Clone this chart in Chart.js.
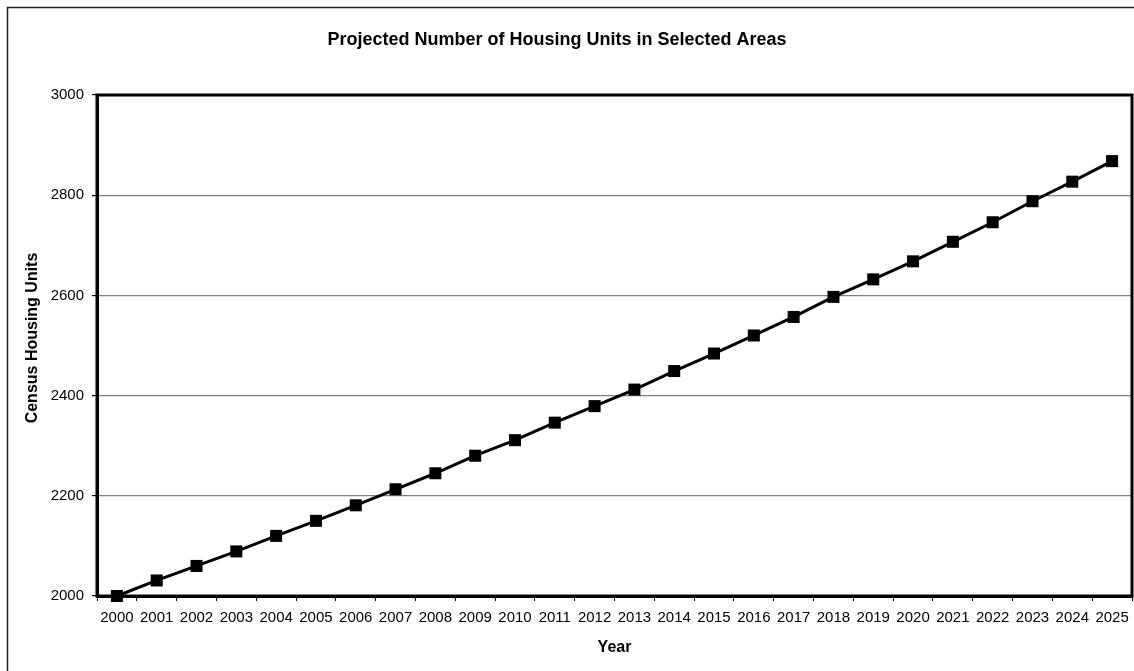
<!DOCTYPE html>
<html>
<head>
<meta charset="utf-8">
<title>Projected Number of Housing Units</title>
<script src="https://cdn.jsdelivr.net/npm/chart.js@4/dist/chart.umd.min.js"></script>
<style>
	html, body { margin: 0; padding: 0; background: #fff; overflow: hidden; }
	canvas { display: block; }
</style>
</head>
<body>
<canvas id="myChart" width="1134" height="671"></canvas>
<script>
// DATA
const years = ["2000", "2001", "2002", "2003", "2004", "2005", "2006", "2007", "2008", "2009",
	"2010", "2011", "2012", "2013", "2014", "2015", "2016", "2017", "2018", "2019",
	"2020", "2021", "2022", "2023", "2024", "2025"];
const housingUnits = [2000, 2031, 2060, 2089, 2120, 2150, 2181, 2213, 2245, 2280,
	2311, 2346, 2379, 2412, 2449, 2484, 2520, 2557, 2597, 2632,
	2668, 2707, 2746, 2788, 2827, 2868];
const yTicks = [2000, 2200, 2400, 2600, 2800, 3000];
const chartTitle = "Projected Number of Housing Units in Selected Areas";
const yTitle = "Census Housing Units";

const FONT = "'Liberation Sans', Arial, sans-serif";

// outer frame, titles and plot box
const frame = {
	id: "frame",
	beforeDraw(chart) {
		const ctx = chart.ctx;
		ctx.save();
		ctx.fillStyle = "#fff";
		ctx.fillRect(0, 0, chart.width, chart.height);
		ctx.strokeStyle = "#222";
		ctx.lineWidth = 1.5;
		ctx.strokeRect(7.5, 7.5, 1300, 800);
		// main title, centred on the original sheet chart (wider than the crop)
		ctx.fillStyle = "#000";
		ctx.font = "bold 18px " + FONT;
		ctx.textAlign = "center";
		ctx.textBaseline = "alphabetic";
		ctx.fillText(chartTitle, 557, 44.5);
		// y axis title
		ctx.font = "bold 16px " + FONT;
		ctx.textBaseline = "middle";
		ctx.translate(33, 338);
		ctx.rotate(-Math.PI / 2);
		ctx.fillText(yTitle, 0, 0);
		ctx.restore();
	},
	beforeDatasetsDraw(chart) {
		const a = chart.chartArea;
		const ctx = chart.ctx;
		ctx.save();
		ctx.strokeStyle = "#000";
		ctx.lineWidth = 3;
		ctx.strokeRect(a.left, a.top, a.right - a.left, a.bottom - a.top);
		ctx.restore();
	}
};

// CONFIG
const config = {
	type: "line",
	data: {
		labels: years,
		datasets: [{
			label: yTitle,
			data: housingUnits,
			borderColor: "#000",
			backgroundColor: "#000",
			borderWidth: 3,
			pointStyle: "rect",
			pointRadius: 8.5,
			pointBorderWidth: 0,
			pointBackgroundColor: "#000",
			tension: 0,
			clip: false
		}]
	},
	options: {
		responsive: false,
		animation: false,
		layout: { autoPadding: false, padding: { left: 8, right: 2, top: 95, bottom: 0 } },
		plugins: {
			legend: { display: false },
			tooltip: { enabled: false },
			title: { display: false }
		},
		scales: {
			x: {
				type: "category",
				offset: true,
				afterFit(scale) {
					scale.height = 75;
					scale.paddingLeft = 0;
					scale.paddingRight = 0;
				},
				grid: {
					offset: true,
					drawOnChartArea: false,
					drawTicks: true,
					tickLength: 5,
					tickColor: "#000",
					tickWidth: 1
				},
				border: { display: true, color: "#000", width: 3 },
				ticks: {
					color: "#000",
					font: { family: FONT, size: 15 },
					padding: 8,
					maxRotation: 0,
					autoSkip: false
				},
				title: {
					display: true,
					text: "Year",
					color: "#000",
					font: { family: FONT, size: 16, weight: "bold" },
					padding: { top: 4, bottom: 14 }
				}
			},
			y: {
				min: 2000,
				max: 3000,
				afterFit(scale) { scale.width = 89; },
				afterBuildTicks(scale) { scale.ticks = yTicks.map(v => ({ value: v })); },
				grid: {
					color: "#808080",
					lineWidth: 1.2,
					tickLength: 5,
					tickColor: "#000"
				},
				border: { display: true, color: "#000", width: 3 },
				ticks: {
					color: "#000",
					font: { family: FONT, size: 15 },
					padding: 8,
					callback: v => String(v)
				},
				title: { display: false }
			}
		}
	},
	plugins: [frame]
};

// RENDER
var myChart = new Chart(document.getElementById("myChart"), config);
</script>
</body>
</html>
